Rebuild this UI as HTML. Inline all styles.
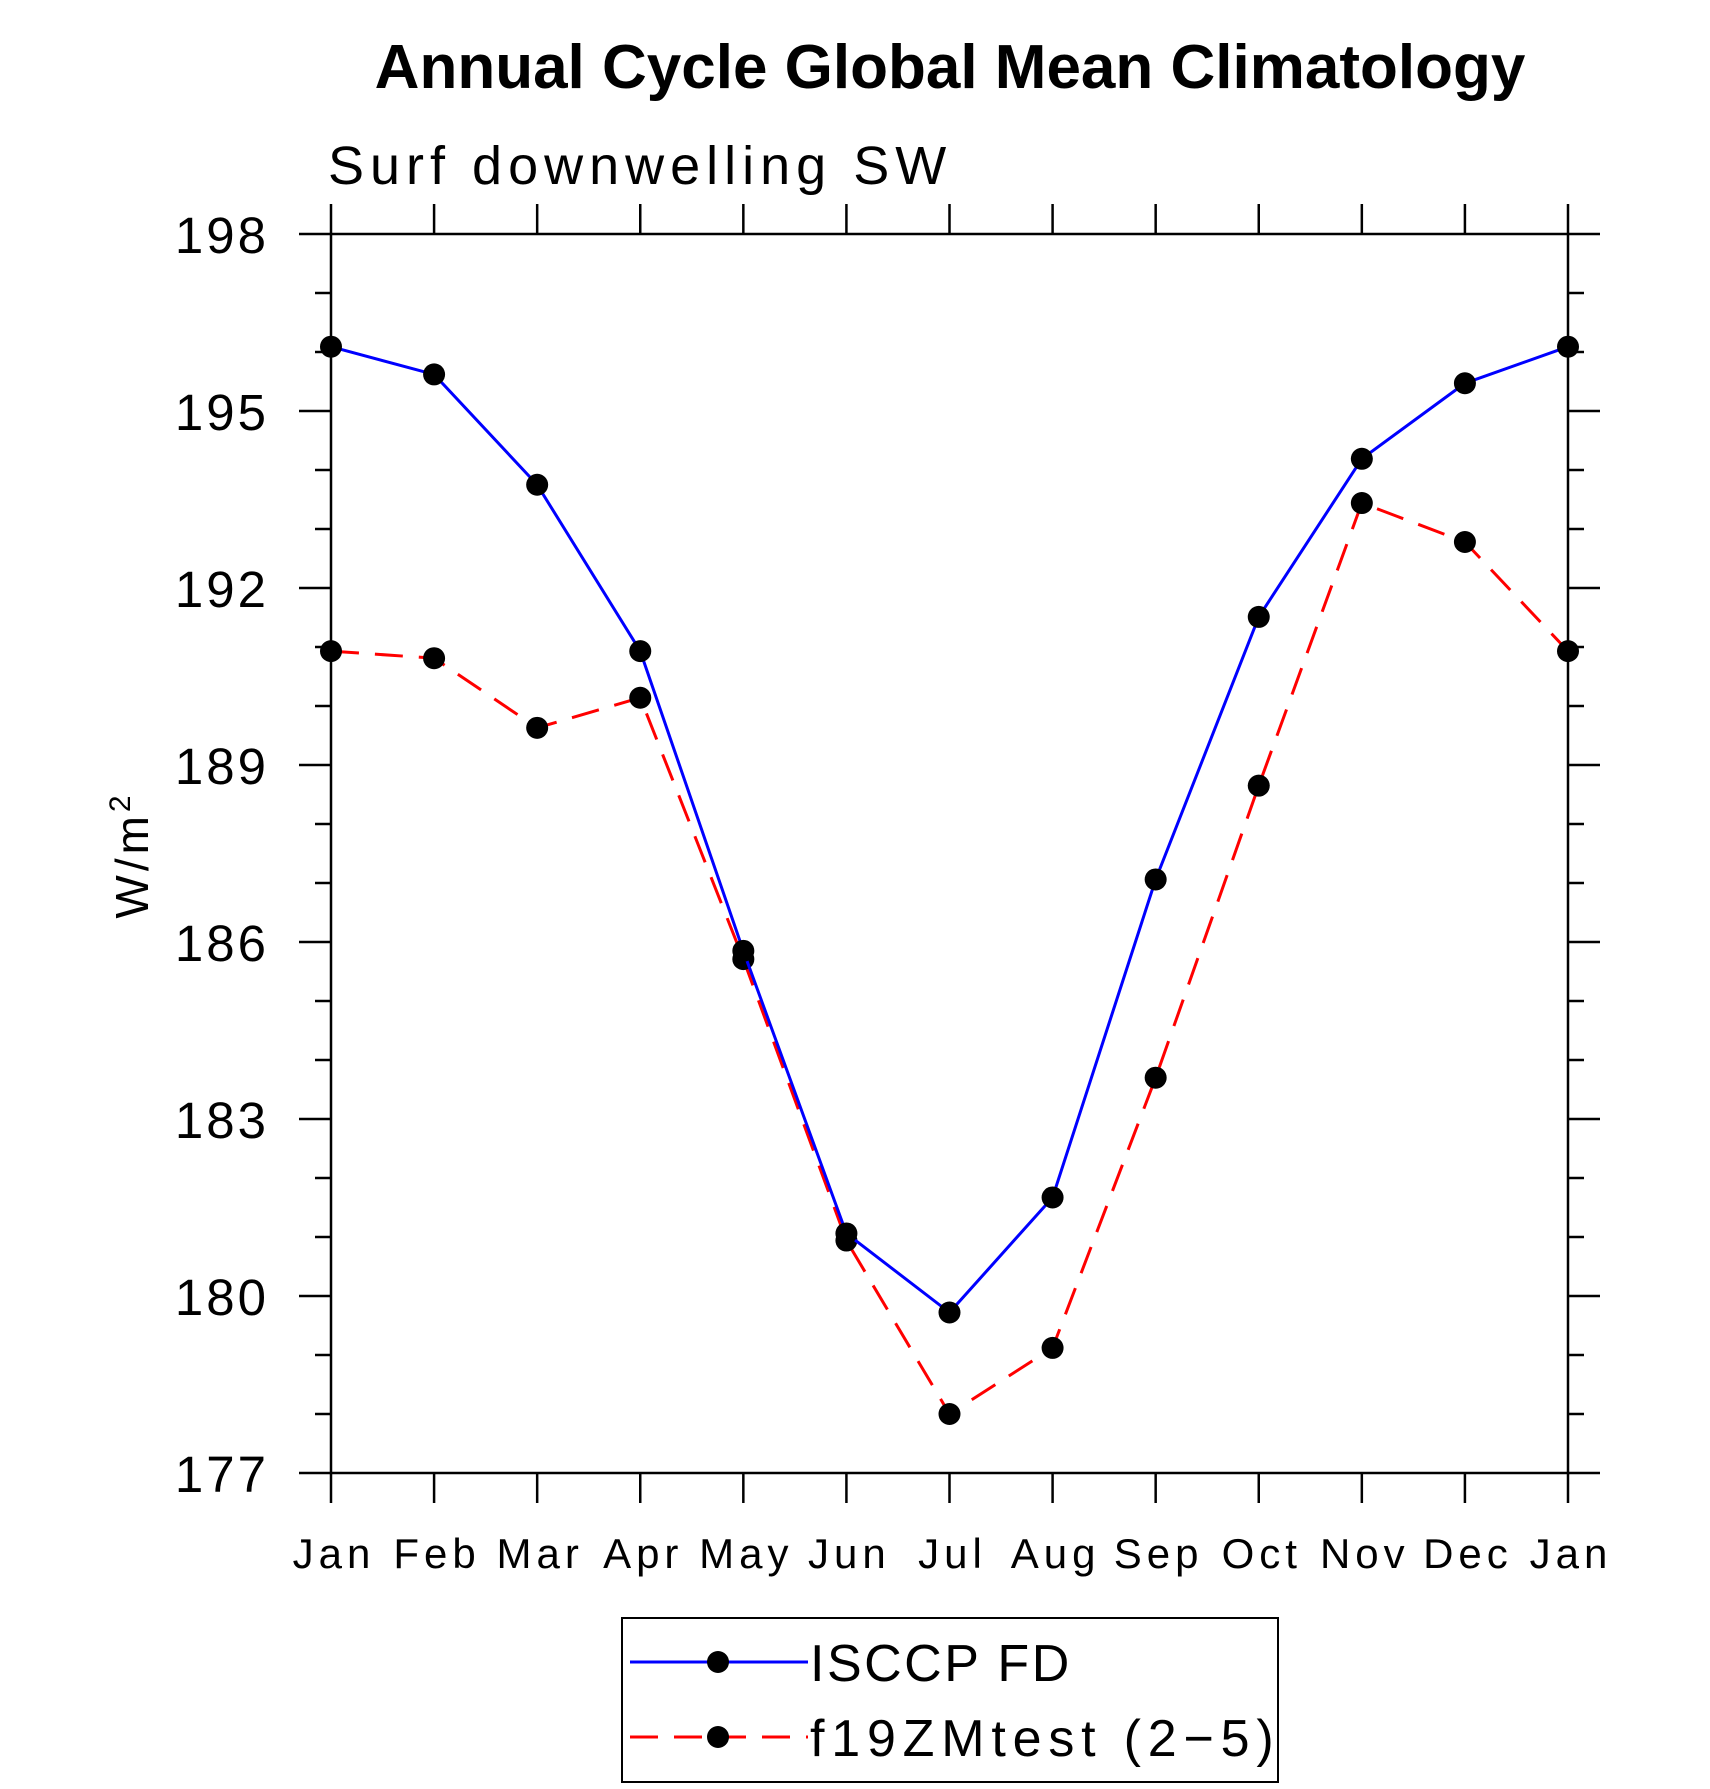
<!DOCTYPE html>
<html><head><meta charset="utf-8"><style>
html,body{margin:0;padding:0;background:#fff;}
svg{display:block;font-family:"Liberation Sans",sans-serif;}
</style></head><body>
<svg id="chart" width="1710" height="1789" viewBox="0 0 1710 1789">
<text x="950" y="88" text-anchor="middle" font-size="62" font-weight="bold">Annual Cycle Global Mean Climatology</text>
<text x="328" y="184" font-size="54" letter-spacing="6" font-weight="300">Surf downwelling SW</text>
<text transform="translate(148,855) rotate(-90)" text-anchor="middle" font-size="46" letter-spacing="4">W/m<tspan dy="-18" font-size="30">2</tspan></text>
<g id="axes"></g>
<g id="series"></g>
<g id="legend">
<rect x="622" y="1618" width="656" height="164" fill="none" stroke="#000" stroke-width="2"/>
<g>
<line x1="630" y1="1662" x2="808" y2="1662" stroke="#00f" stroke-width="3"/>
<circle cx="718" cy="1662" r="11"/>
<text x="810" y="1681" font-size="52" letter-spacing="2.5">ISCCP FD</text>
</g>
<g>
<line x1="630" y1="1737" x2="808" y2="1737" stroke="#f00" stroke-width="3" stroke-dasharray="28,16"/>
<circle cx="718" cy="1737" r="11"/>
<text x="810" y="1756" font-size="52" letter-spacing="6.8">f19ZMtest (2−5)</text>
</g>
</g>
</svg>
<script>
const months = ["Jan","Feb","Mar","Apr","May","Jun","Jul","Aug","Sep","Oct","Nov","Dec","Jan"];
const isccp = [196.09,195.62,193.75,190.93,185.85,181.06,179.72,181.67,187.06,191.51,194.19,195.47,196.09];
const f19 = [190.93,190.81,189.63,190.14,185.71,180.94,178.0,179.12,183.70,188.65,193.44,192.78,190.93];
const yTicks = [177,180,183,186,189,192,195,198];

const L=331,R=1568,T=234,B=1473,yMin=177,yMax=198;
const NS="http://www.w3.org/2000/svg";
function xs(i){return L+(R-L)*i/(months.length-1);}
function ys(v){return B-(v-yMin)/(yMax-yMin)*(B-T);}
function mk(tag,attrs,parent){const e=document.createElementNS(NS,tag);for(const k in attrs)e.setAttribute(k,attrs[k]);parent.appendChild(e);return e;}
const axes=document.getElementById('axes');
const frame=mk('rect',{x:L,y:T,width:R-L,height:B-T,fill:'none',stroke:'#000','stroke-width':2.5},axes);


for(let v=yMin;v<=yMax;v++){
  const y=ys(v);const major=yTicks.includes(v);const len=major?32:16;
  const t1=mk('line',{x1:L-len,y1:y,x2:L,y2:y,stroke:'#000','stroke-width':2.5},axes);
  
  
  const t2=mk('line',{x1:R,y1:y,x2:R+len,y2:y,stroke:'#000','stroke-width':2.5},axes);
  
  
}
yTicks.forEach(v=>{
  const t=mk('text',{x:269,y:ys(v)+19,'text-anchor':'end','font-size':51,'letter-spacing':3},axes);
  t.textContent=v;
  
  
});
months.forEach((m,i)=>{
  const x=xs(i);
  const a=mk('line',{x1:x,y1:B,x2:x,y2:B+30,stroke:'#000','stroke-width':2.5},axes);
  
  
  const b=mk('line',{x1:x,y1:T-30,x2:x,y2:T,stroke:'#000','stroke-width':2.5},axes);
  
  
  const t=mk('text',{x:x+3,y:1568,'text-anchor':'middle','font-size':42,'letter-spacing':5},axes);
  t.textContent=m;
  
  
});
const series=document.getElementById('series');
function draw(vals,color,dash,name){
  const g=mk('g',{},series);
  
  
  const p=mk('polyline',{points:vals.map((v,i)=>xs(i)+','+ys(v)).join(' '),fill:'none',stroke:color,'stroke-width':3,'stroke-dasharray':dash},g);
  
  
  vals.forEach((v,i)=>{
    const c=mk('circle',{cx:xs(i),cy:ys(v),r:11,fill:'#000'},g);
    
    
  });
}
draw(f19,'#f00','28,16','series-f19zmtest');
draw(isccp,'#00f','none','series-isccp');
</script>
</body></html>
